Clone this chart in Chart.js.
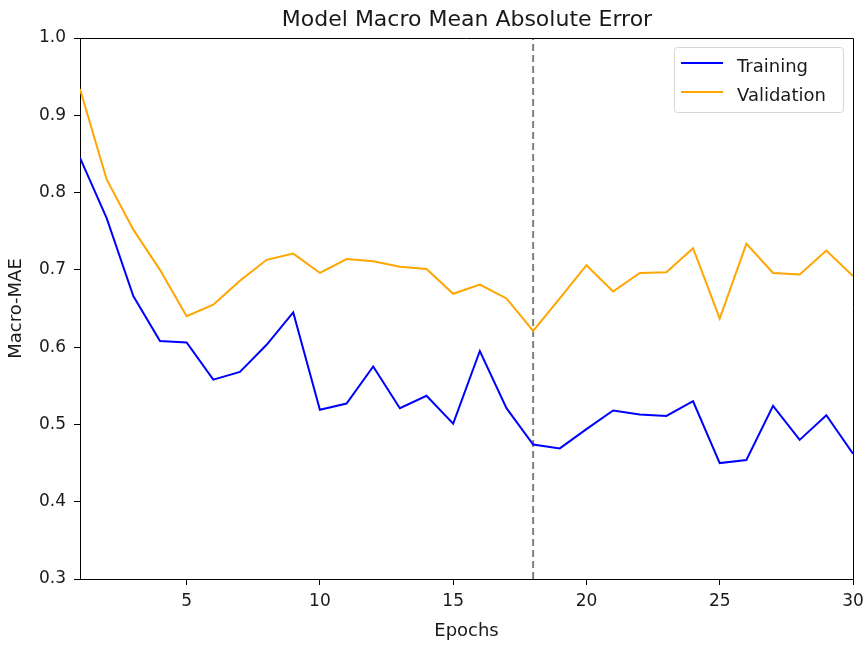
<!DOCTYPE html>
<html lang="en">
<head>
    <meta charset="UTF-8">
    <title>Model Macro Mean Absolute Error</title>
    <script src="https://cdn.jsdelivr.net/npm/chart.js"></script>
    <style>
        html, body { margin: 0; padding: 0; background: #fff; }
        #wrap { width: 867px; height: 646px; }
    </style>
</head>
<body>
    <div id="wrap"><canvas id="maeChart" width="867" height="646"></canvas></div>

    <script>
        // values
        const epochs = [1, 2, 3, 4, 5, 6, 7, 8, 9, 10, 11, 12, 13, 14, 15,
                        16, 17, 18, 19, 20, 21, 22, 23, 24, 25, 26, 27, 28, 29, 30];
        const training = [0.845, 0.767, 0.666, 0.608, 0.606, 0.558, 0.568, 0.603, 0.645, 0.519,
                          0.527, 0.575, 0.521, 0.537, 0.501, 0.595, 0.521, 0.474, 0.469, 0.494,
                          0.518, 0.513, 0.511, 0.530, 0.450, 0.454, 0.524, 0.480, 0.512, 0.462];
        const validation = [0.934, 0.817, 0.752, 0.700, 0.640, 0.655, 0.686, 0.713, 0.721, 0.696,
                            0.714, 0.711, 0.704, 0.701, 0.669, 0.681, 0.663, 0.621, 0.663, 0.706,
                            0.672, 0.696, 0.697, 0.728, 0.637, 0.734, 0.696, 0.694, 0.725, 0.692];
        const bestEpoch = 18;
        const xTicks = [5, 10, 15, 20, 25, 30];
        const yTicks = [0.3, 0.4, 0.5, 0.6, 0.7, 0.8, 0.9, 1.0];

        const FONT = 'DejaVu Sans';
        const TEXT = '#1a1a1a';

        // title, top/right spines and the in-axes legend
        const decor = {
            id: 'decor',
            afterDraw(chart) {
                const ctx = chart.ctx;
                const a = chart.chartArea;
                ctx.save();
                ctx.strokeStyle = '#000';
                ctx.lineWidth = 1;
                ctx.beginPath();
                ctx.moveTo(a.left, a.top + 0.5);
                ctx.lineTo(a.right + 0.5, a.top + 0.5);
                ctx.lineTo(a.right + 0.5, a.bottom);
                ctx.stroke();

                ctx.fillStyle = TEXT;
                ctx.font = '22px "' + FONT + '"';
                ctx.textAlign = 'center';
                ctx.textBaseline = 'alphabetic';
                ctx.fillText('Model Macro Mean Absolute Error', 467, 26);

                // legend
                const bx = 674, by = 47, bw = 169, bh = 65;
                ctx.fillStyle = 'rgba(255,255,255,0.8)';
                ctx.strokeStyle = '#d6d6d6';
                ctx.beginPath();
                ctx.roundRect(bx + 0.5, by + 0.5, bw, bh, 3);
                ctx.fill();
                ctx.stroke();
                const items = chart.data.datasets.filter(d => d.label);
                ctx.font = '18px "' + FONT + '"';
                ctx.textAlign = 'left';
                ctx.textBaseline = 'alphabetic';
                items.forEach((d, i) => {
                    const yy = 63 + i * 29;
                    ctx.strokeStyle = d.borderColor;
                    ctx.lineWidth = 2;
                    ctx.beginPath();
                    ctx.moveTo(681, yy);
                    ctx.lineTo(723, yy);
                    ctx.stroke();
                    ctx.fillStyle = TEXT;
                    ctx.fillText(d.label, 737, yy + 9);
                });
                ctx.restore();
            }
        };

        const ctx = document.getElementById('maeChart').getContext('2d');
        new Chart(ctx, {
            type: 'line',
            data: {
                datasets: [
                    {
                        label: 'Training',
                        data: epochs.map((e, i) => ({ x: e, y: training[i] })),
                        borderColor: '#0000ff',
                        borderWidth: 2,
                        pointRadius: 0,
                        tension: 0
                    },
                    {
                        label: 'Validation',
                        data: epochs.map((e, i) => ({ x: e, y: validation[i] })),
                        borderColor: '#ffa500',
                        borderWidth: 2,
                        pointRadius: 0,
                        tension: 0
                    },
                    {
                        label: '',
                        data: [{ x: bestEpoch, y: yTicks[0] }, { x: bestEpoch, y: yTicks[yTicks.length - 1] }],
                        borderColor: '#808080',
                        borderWidth: 2,
                        borderDash: [7, 4],
                        pointRadius: 0
                    }
                ]
            },
            options: {
                responsive: false,
                animation: false,
                layout: { padding: { top: 38, right: 14, left: 0, bottom: 0 } },
                plugins: {
                    legend: { display: false },
                    title: { display: false },
                    tooltip: { enabled: false }
                },
                scales: {
                    x: {
                        type: 'linear',
                        min: 1,
                        max: 30,
                        afterBuildTicks: s => { s.ticks = xTicks.map(v => ({ value: v })); },
                        afterFit: s => { s.height = 67; s.paddingRight = 0; s.paddingLeft = 0; },
                        grid: { drawOnChartArea: false, drawTicks: true, tickLength: 6, color: '#000' },
                        border: { color: '#000', width: 1 },
                        ticks: { color: TEXT, padding: 6, maxRotation: 0, font: { family: FONT, size: 17 } },
                        title: { display: true, text: 'Epochs', color: TEXT, padding: { top: 2 }, font: { family: FONT, size: 18 } }
                    },
                    y: {
                        min: 0.3,
                        max: 1.0,
                        afterBuildTicks: s => { s.ticks = yTicks.map(v => ({ value: v })); },
                        afterFit: s => { s.width = 80; },
                        grid: { drawOnChartArea: false, drawTicks: true, tickLength: 6, color: '#000' },
                        border: { color: '#000', width: 1 },
                        ticks: { color: TEXT, padding: 8, font: { family: FONT, size: 17 }, callback: v => v.toFixed(1) },
                        title: { display: true, text: 'Macro-MAE', color: TEXT, padding: { top: 6, bottom: 0 }, font: { family: FONT, size: 18 } }
                    }
                }
            },
            plugins: [decor]
        });
    </script>
</body>
</html>
